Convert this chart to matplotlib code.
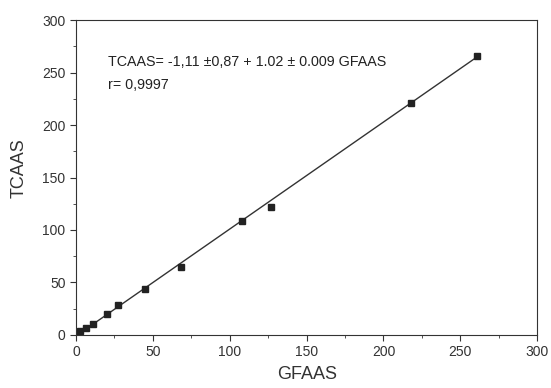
import matplotlib
matplotlib.use("Agg")
import matplotlib.pyplot as plt
from matplotlib.ticker import MultipleLocator

gfaas = [1, 2.5, 6.5, 11, 20, 27, 45, 68, 108, 127, 218, 261]
tcaas = [1.5, 3.5, 6.5, 10.5, 20, 28, 44, 65, 109, 122, 221, 266]

intercept = -1.11
slope = 1.02
fit_x = [0, 261]

plt.rcParams["font.family"] = ["Liberation Sans", "DejaVu Sans"]

fig = plt.figure(figsize=(5.51, 3.88), dpi=100)
ax = fig.add_axes([0.138, 0.137, 0.837, 0.811])

ax.plot(fit_x, [intercept + slope * x for x in fit_x], color="#333333", linewidth=1)
ax.plot(gfaas, tcaas, linestyle="none", marker="s", markersize=5,
        color="#222222")

ax.set_xlim(0, 300)
ax.set_ylim(0, 300)
ax.xaxis.set_major_locator(MultipleLocator(50))
ax.yaxis.set_major_locator(MultipleLocator(50))
ax.xaxis.set_minor_locator(MultipleLocator(25))
ax.yaxis.set_minor_locator(MultipleLocator(25))
ax.tick_params(which="major", direction="out", length=4, labelsize=10,
               colors="#333333")
ax.tick_params(which="minor", direction="out", length=2, colors="#333333")

for s in ax.spines.values():
    s.set_color("#333333")

ax.set_xlabel("GFAAS", fontsize=13, color="#333333", labelpad=5)
ax.set_ylabel("TCAAS", fontsize=13, color="#333333")
ax.yaxis.set_label_coords(-0.105, 0.53)

ax.text(21, 260, "TCAAS= -1,11 \u00b10,87 + 1.02 \u00b1 0.009 GFAAS",
        fontsize=10.3, color="#222222", va="center")
ax.text(21, 238, "r= 0,9997", fontsize=10.3, color="#222222", va="center")

plt.savefig("out.png", dpi=100)
